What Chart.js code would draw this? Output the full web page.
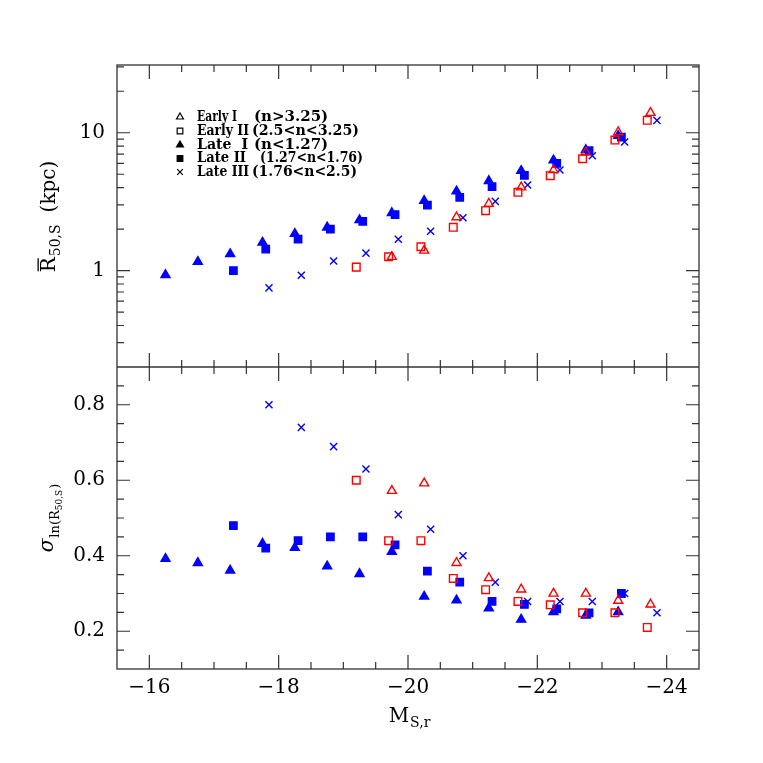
<!DOCTYPE html>
<html><head><meta charset="utf-8">
<script src="https://cdn.jsdelivr.net/npm/chart.js@4/dist/chart.umd.min.js"></script>
<style>html,body{margin:0;padding:0;background:#fff;}#wrap{width:763px;height:763px;position:relative;}</style>
</head><body><div id="wrap"><canvas id="c" width="763" height="763"></canvas></div>
<script>
// ---- data ----
const earlyI_x   = [-19.75,-20.25,-20.75,-21.25,-21.75,-22.25,-22.75,-23.25,-23.75];
const earlyI_R   = [1.26,1.40,2.44,3.06,4.02,5.37,7.21,10.1,13.96];
const earlyI_sig = [0.572,0.592,0.381,0.341,0.311,0.300,0.300,0.281,0.271];

const earlyII_x   = [-19.2,-19.7,-20.2,-20.7,-21.2,-21.7,-22.2,-22.7,-23.2,-23.7];
const earlyII_R   = [1.06,1.26,1.49,2.06,2.72,3.70,4.88,6.48,8.85,12.3];
const earlyII_sig = [0.600,0.440,0.440,0.340,0.310,0.279,0.270,0.249,0.249,0.210];

const lateI_x   = [-16.25,-16.75,-17.25,-17.75,-18.25,-18.75,-19.25,-19.75,-20.25,-20.75,-21.25,-21.75,-22.25,-22.75,-23.25];
const lateI_R   = [0.93,1.16,1.32,1.60,1.85,2.06,2.33,2.62,3.21,3.76,4.47,5.30,6.31,7.50,9.50];
const lateI_sig = [0.392,0.381,0.361,0.432,0.421,0.372,0.352,0.411,0.292,0.282,0.261,0.231,0.251,0.242,0.251];

const lateII_x   = [-17.3,-17.8,-18.3,-18.8,-19.3,-19.8,-20.3,-20.8,-21.3,-21.8,-22.3,-22.8,-23.3];
const lateII_R   = [1.00,1.43,1.69,2.00,2.28,2.55,2.99,3.40,4.06,4.91,6.00,7.41,9.30];
const lateII_sig = [0.480,0.420,0.440,0.450,0.450,0.429,0.359,0.330,0.279,0.271,0.259,0.249,0.300];

const lateIII_x   = [-17.85,-18.35,-18.85,-19.35,-19.85,-20.35,-20.85,-21.35,-21.85,-22.35,-22.85,-23.35,-23.85];
const lateIII_R   = [0.75,0.925,1.175,1.34,1.69,1.93,2.42,3.18,4.18,5.37,6.81,8.57,12.3];
const lateIII_sig = [0.800,0.740,0.689,0.630,0.509,0.470,0.400,0.330,0.279,0.279,0.279,0.300,0.249];

const legendNames  = ['Early I', 'Early II', 'Late  I', 'Late II', 'Late III'];
const legendRanges = ['(n>3.25)', '(2.5<n<3.25)', '(n<1.27)', '(1.27<n<1.76)', '(1.76<n<2.5)'];

// ticks
const xMajorTicks = [-16,-18,-20,-22,-24];
const xMinorTicks = [-16.5,-17,-17.5,-18.5,-19,-19.5,-20.5,-21,-21.5,-22.5,-23,-23.5,-24.5,-15.5];
const rMajorTicks = [1,10];
const rMinorTicks = [0.2,0.3,0.4,0.5,0.6,0.7,0.8,0.9,2,3,4,5,6,7,8,9,20,30];
const sMajorTicks = [0.2,0.4,0.6,0.8];
const sMinorTicks = [0.1,0.15,0.25,0.3,0.35,0.45,0.5,0.55,0.65,0.7,0.75,0.85,0.9];

const RED = '#ff0000', BLUE = '#0000ff';
const SERIF = '"DejaVu Serif", serif';

function pts(xs, ys){ return xs.map((x,i)=>({x:x, y:ys[i]})); }

const styles = [
  {name:'Early I',  x:earlyI_x,  R:earlyI_R,  s:earlyI_sig,  ps:'triangle', fill:false, color:RED,  r:5.2},
  {name:'Early II', x:earlyII_x, R:earlyII_R, s:earlyII_sig, ps:'rect',     fill:false, color:RED,  r:5.4},
  {name:'Late I',   x:lateI_x,   R:lateI_R,   s:lateI_sig,   ps:'triangle', fill:true,  color:BLUE, r:5.2},
  {name:'Late II',  x:lateII_x,  R:lateII_R,  s:lateII_sig,  ps:'rect',     fill:true,  color:BLUE, r:5.2},
  {name:'Late III', x:lateIII_x, R:lateIII_R, s:lateIII_sig, ps:'crossRot', fill:false, color:BLUE, r:5.0},
];

const datasets = [];
for (const st of styles){
  for (const [axis, ys] of [['yTop', st.R], ['yBot', st.s]]){
    datasets.push({
      label: st.name + (axis==='yTop'?' R':' sigma'),
      data: pts(st.x, ys),
      yAxisID: axis,
      pointStyle: st.ps,
      pointRadius: st.r,
      pointHoverRadius: st.r,
      pointBorderWidth: 1.4,
      borderColor: st.color,
      backgroundColor: st.fill ? st.color : 'rgba(0,0,0,0)',
      showLine: false
    });
  }
}

function drawMarker(ctx, ps, fill, color, r, x, y){
  ctx.save();
  ctx.strokeStyle = color; ctx.fillStyle = color; ctx.lineWidth = 1.2;
  ctx.beginPath();
  if (ps === 'triangle'){
    ctx.moveTo(x, y - r);
    ctx.lineTo(x + r*0.866, y + r*0.5);
    ctx.lineTo(x - r*0.866, y + r*0.5);
    ctx.closePath();
  } else if (ps === 'rect'){
    const s = r*0.707;
    ctx.rect(x - s, y - s, 2*s, 2*s);
  } else {
    const s = r*0.707;
    ctx.moveTo(x - s, y - s); ctx.lineTo(x + s, y + s);
    ctx.moveTo(x - s, y + s); ctx.lineTo(x + s, y - s);
  }
  if (fill) ctx.fill();
  ctx.stroke();
  ctx.restore();
}

const framePlugin = {
  id: 'frame',
  afterDatasetsDraw(chart){
    const ctx = chart.ctx, ca = chart.chartArea;
    const x = chart.scales.x, yT = chart.scales.yTop, yB = chart.scales.yBot;
    ctx.save();
    ctx.strokeStyle = '#333'; ctx.lineWidth = 1.3;
    ctx.strokeRect(ca.left, ca.top, ca.right - ca.left, ca.bottom - ca.top);
    const mid = yT.bottom;
    ctx.beginPath(); ctx.moveTo(ca.left, mid); ctx.lineTo(ca.right, mid); ctx.stroke();
    ctx.lineWidth = 1.2;
    ctx.beginPath();
    const edges = [[yT.top, 1], [yT.bottom, -1], [yB.top, 1], [yB.bottom, -1]];
    const xt = xMajorTicks.map(v=>[v,14]).concat(xMinorTicks.map(v=>[v,7]));
    for (const [v,len] of xt){
      const px = x.getPixelForValue(v);
      if (px <= ca.left + 0.5 || px >= ca.right - 0.5) continue;
      for (const [ey, d] of edges){ ctx.moveTo(px, ey); ctx.lineTo(px, ey + d*len); }
    }
    const yTicks = [[yT, rMajorTicks.map(v=>[v,13]).concat(rMinorTicks.map(v=>[v,7]))],
                    [yB, sMajorTicks.map(v=>[v,13]).concat(sMinorTicks.map(v=>[v,7]))]];
    for (const [sc, list] of yTicks){
      for (const [v,len] of list){
        const py = sc.getPixelForValue(v);
        if (py <= sc.top + 0.5 || py >= sc.bottom - 0.5) continue;
        ctx.moveTo(ca.left, py); ctx.lineTo(ca.left + len, py);
        ctx.moveTo(ca.right, py); ctx.lineTo(ca.right - len, py);
      }
    }
    ctx.stroke();
    ctx.restore();

    // legend
    ctx.save();
    const rowsY = [117, 131, 145, 158.5, 172];
    ctx.font = 'bold 15px ' + SERIF;
    ctx.fillStyle = '#000'; ctx.textBaseline = 'middle'; ctx.textAlign = 'left';
    const nameEnd  = [237, 249, 248, 246, 249];
    const rangeX   = [254, 252, 254, 260, 252];
    const rangeEnd = [345, 359, 345, 363, 357];
    styles.forEach((st,i)=>{
      drawMarker(ctx, st.ps, st.fill, '#000', 4.0, 180, rowsY[i]);
      ctx.fillText(legendNames[i], 197, rowsY[i], nameEnd[i] - 197);
      ctx.fillText(legendRanges[i], rangeX[i], rowsY[i], rangeEnd[i] - rangeX[i]);
    });
    ctx.restore();

    // axis titles
    ctx.save();
    ctx.fillStyle = '#000';
    ctx.textBaseline = 'alphabetic';
    // x title
    ctx.font = '20px ' + SERIF;
    const wM = ctx.measureText('M').width;
    ctx.font = '14px ' + SERIF;
    const wS = ctx.measureText('S,r').width;
    let sx = 409 - (wM + wS)/2;
    ctx.font = '20px ' + SERIF; ctx.textAlign = 'left';
    ctx.fillText('M', sx, 722);
    ctx.font = '14px ' + SERIF;
    ctx.fillText('S,r', sx + wM + 1, 727);

    // top y title (rotated)
    ctx.save();
    ctx.translate(55, 217);
    ctx.rotate(-Math.PI/2);
    ctx.font = '20px ' + SERIF;
    const wR = ctx.measureText('R').width;
    ctx.font = '14px ' + SERIF;
    const w50 = ctx.measureText('50,S').width;
    ctx.font = '20px ' + SERIF;
    const wK = ctx.measureText('(kpc)').width;
    const total = wR + w50 + 12 + wK;
    let tx = -total/2;
    ctx.fillText('R', tx, 0);
    ctx.fillRect(tx + 1, -17.5, wR - 2, 1.3);
    ctx.font = '14px ' + SERIF;
    ctx.fillText('50,S', tx + wR + 1, 5);
    ctx.font = '20px ' + SERIF;
    ctx.fillText('(kpc)', tx + wR + w50 + 13, 0);
    ctx.restore();

    // bottom y title
    ctx.save();
    ctx.translate(53, 518);
    ctx.rotate(-Math.PI/2);
    ctx.font = 'italic 20px ' + SERIF;
    const wSig = ctx.measureText('σ').width;
    ctx.font = '13px ' + SERIF;
    const wLn = ctx.measureText('ln(R').width;
    ctx.font = '9px ' + SERIF;
    const w50b = ctx.measureText('50,S').width;
    ctx.font = '13px ' + SERIF;
    const wP = ctx.measureText(')').width;
    const tot2 = wSig + wLn + w50b + wP + 2;
    let bx = -tot2/2;
    ctx.font = 'italic 20px ' + SERIF;
    ctx.fillText('σ', bx, 0);
    bx += wSig + 1;
    ctx.font = '13px ' + SERIF;
    ctx.fillText('ln(R', bx, 6);
    bx += wLn;
    ctx.font = '9px ' + SERIF;
    ctx.fillText('50,S', bx, 9);
    bx += w50b + 1;
    ctx.font = '13px ' + SERIF;
    ctx.fillText(')', bx, 6);
    ctx.restore();
    ctx.restore();
  }
};

const fmtMinus = v => (v < 0 ? '\u2212' + Math.abs(v) : String(v));

new Chart(document.getElementById('c'), {
  type: 'scatter',
  data: { datasets },
  options: {
    responsive: false,
    animation: false,
    devicePixelRatio: 1,
    layout: { padding: { left: 0, top: 65, right: 64, bottom: 0 } },
    plugins: { legend: { display: false }, tooltip: { enabled: false } },
    scales: {
      x: {
        type: 'linear', reverse: true, min: -24.5, max: -15.5,
        afterBuildTicks: s => { s.ticks = xMajorTicks.map(v=>({value:v})); },
        afterFit: s => { s.height = 94; },
        grid: { display: false, drawTicks: false },
        border: { display: false },
        ticks: { callback: fmtMinus, color: '#000', font: { family: SERIF, size: 20 }, padding: 7, maxRotation: 0, autoSkip: false }
      },
      yBot: {
        type: 'linear', position: 'left', stack: 'panels', stackWeight: 1,
        min: 0.1, max: 0.9,
        afterBuildTicks: s => { s.ticks = sMajorTicks.map(v=>({value:v})); },
        afterFit: s => { s.width = 117; },
        grid: { display: false, drawTicks: false },
        border: { display: false },
        ticks: { callback: v => v.toFixed(1), color: '#000', font: { family: SERIF, size: 20 }, padding: 12 }
      },
      yTop: {
        type: 'logarithmic', position: 'left', stack: 'panels', stackWeight: 1,
        min: 0.2, max: 31,
        afterBuildTicks: s => { s.ticks = rMajorTicks.map(v=>({value:v})); },
        afterFit: s => { s.width = 117; },
        grid: { display: false, drawTicks: false },
        border: { display: false },
        ticks: { callback: v => String(v), color: '#000', font: { family: SERIF, size: 20 }, padding: 12 }
      }
    }
  },
  plugins: [framePlugin]
});
</script>
</body></html>
